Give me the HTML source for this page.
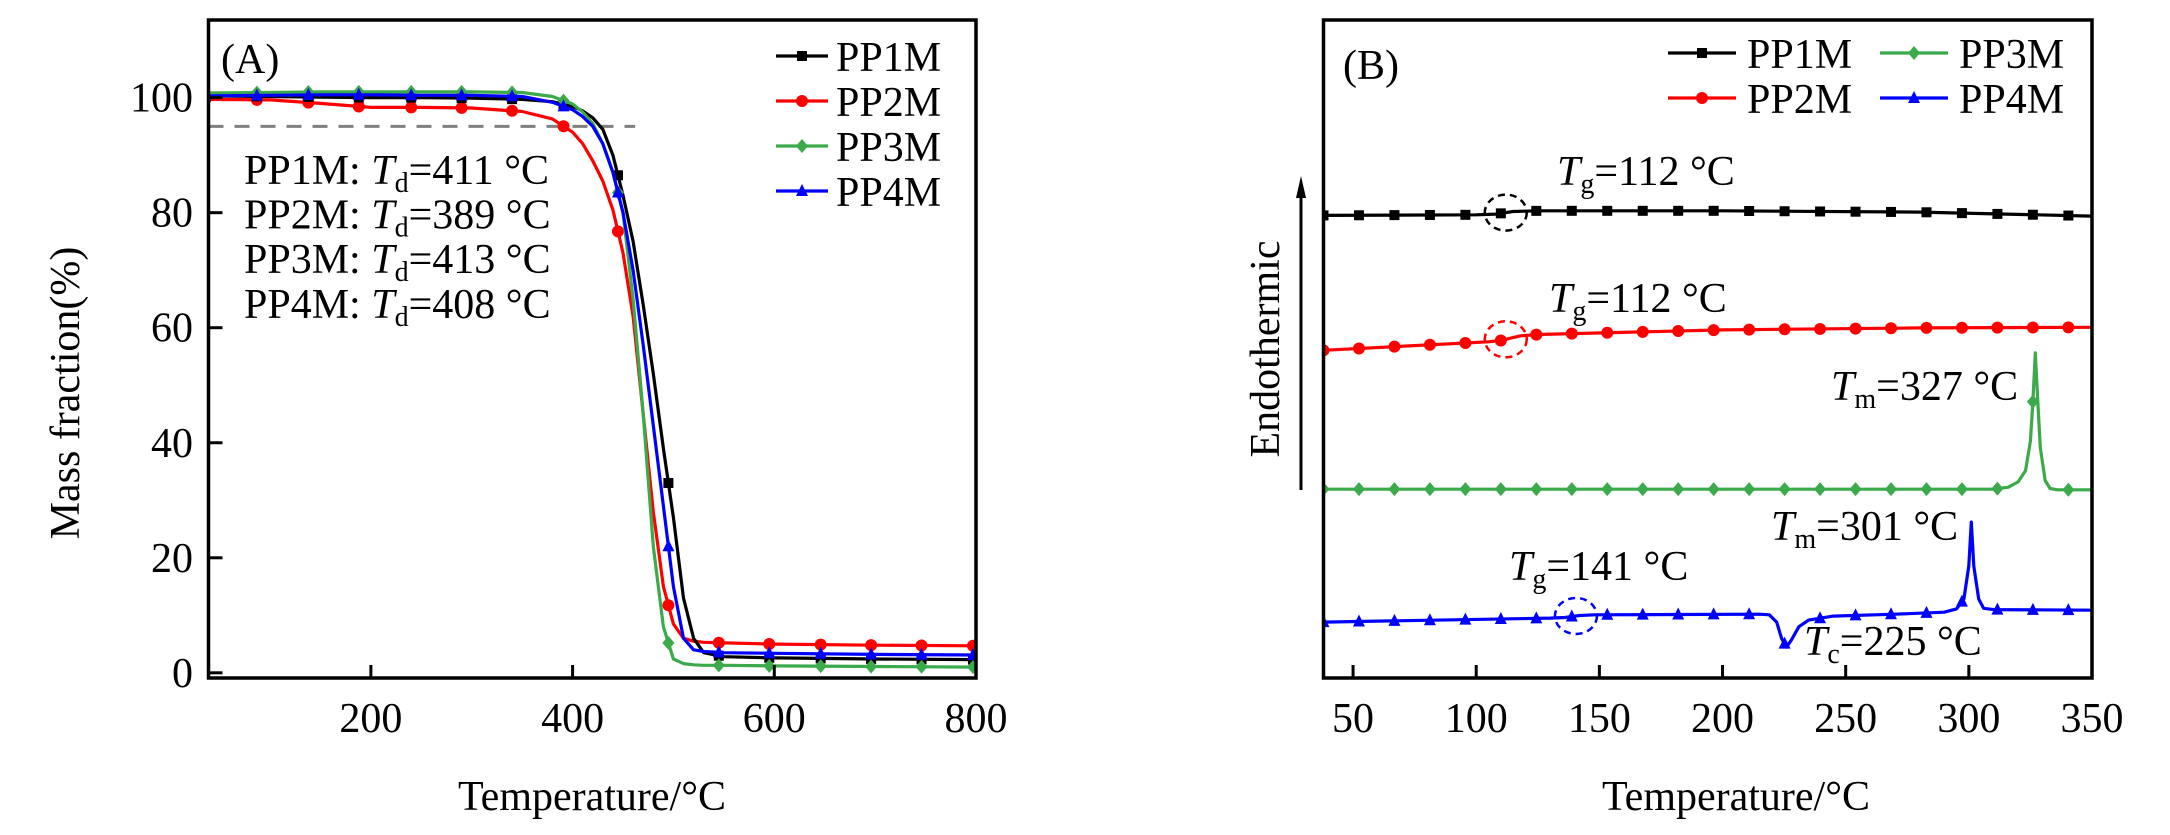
<!DOCTYPE html>
<html><head><meta charset="utf-8">
<style>
html,body{margin:0;padding:0;background:#fff;}
svg{display:block;font-family:"Liberation Serif",serif;}
</style></head>
<body>
<svg id="chart" width="2170" height="835" viewBox="0 0 2170 835" xmlns="http://www.w3.org/2000/svg">
<g id="panelA"></g>
<g id="panelB"></g>
</svg>
<script>
// ---------- Panel A data (TGA) ----------
const tgaXTicks = [200, 400, 600, 800];
const tgaYTicks = [0, 20, 40, 60, 80, 100];
const tgaNames = ["PP1M", "PP2M", "PP3M", "PP4M"];
const tgaTemp = [40,100,150,200,250,300,350,380,400,410,420,430,440,450,460,470,480,490,500,510,520,530,550,600,700,800];
const tgaPP1M = [100.3,100.2,100.1,100.0,100.0,99.9,99.7,99.3,98.5,97.7,96.5,94.5,90,83,75,64,52,39,27,13,6,3.5,2.8,2.6,2.4,2.3];
const tgaPP2M = [99.7,99.6,99.0,98.3,98.3,98.2,97.6,96.3,94.0,92.0,89.0,85.5,80.5,73,62,45,28,15,8.5,6,5.5,5.3,5.2,5.0,4.8,4.7];
const tgaPP3M = [100.8,100.9,101,101,101,101,100.9,100.2,98.9,97.5,95.5,92,87,80,65,45,22,8,2.4,1.6,1.4,1.3,1.3,1.2,1.1,1.0];
const tgaPP4M = [100.3,100.4,100.5,100.5,100.4,100.4,100.2,99.2,97.9,96.7,95,92,87,80,70,57,43,29,15,6,4,3.7,3.5,3.4,3.2,3.1];
const tgaMarkerTemps = [36,87,138,188,240,290,340,391,445,495,545,595,646,696,746,797];
const tgaLabels = ["PP1M: ","PP2M: ","PP3M: ","PP4M: "];
const tgaTd = ["=411 \u00B0C","=389 \u00B0C","=413 \u00B0C","=408 \u00B0C"];
const tgaThreshold = 95;

// ---------- Panel B data (DSC) ----------
const dscXTicks = [50,100,150,200,250,300,350];
const dscNames = ["PP1M","PP2M","PP3M","PP4M"];
const dscPP1M_T = [38,100,108,115,125,200,280,350];
const dscPP1M_V = [70.3,70.4,70.5,70.9,71.0,71.0,70.8,70.2];
const dscPP2M_T = [38,105,110,118,125,200,280,350];
const dscPP2M_V = [49.8,51.1,51.3,52.0,52.2,52.9,53.2,53.3];
const dscPP3M_T = [38,250,310,316,320,323,325,326,327,328,329,331,333,336,350];
const dscPP3M_V = [28.7,28.7,28.7,29.0,29.8,31.5,36,42,49.4,42,35,30,28.8,28.6,28.6];
const dscPP4M_T = [38,130,136,142,148,215,219,222,224,226,228,231,235,245,270,290,295,298,300,301,302,304,306,310,350];
const dscPP4M_V = [8.5,9.1,9.2,9.5,9.6,9.7,9.6,8.5,6,4.7,5.8,7.8,8.8,9.4,9.7,10.0,10.5,12,17,23.7,17,12,10.6,10.4,10.3];
const dscMarkerStart = 38, dscMarkerStep = 14.4;
const dscTg = [112, 112, null, 141];

const colors = ["#000000","#ff0000","#3aaa4a","#0000ff"];
const markerShapes = ["square","circle","diamond","triangle"];

const NS = "http://www.w3.org/2000/svg";
function mk(tag, attrs, parent){ const e=document.createElementNS(NS,tag); for(const k in attrs) e.setAttribute(k,attrs[k]); parent.appendChild(e); return e; }

const A = {x0:208.5, x1:976, y0:678, y1:20, tmin:39, tmax:800, vmin:-0.9, vmax:113.5};
function ax(t){ return A.x0 + (t-A.tmin)/(A.tmax-A.tmin)*(A.x1-A.x0); }
function ay(v){ return A.y0 - (v-A.vmin)/(A.vmax-A.vmin)*(A.y0-A.y1); }
const B = {x0:1323.5, x1:2092, y0:678, y1:20, tmin:38, tmax:350, vmin:0, vmax:100};
function bx(t){ return B.x0 + (t-B.tmin)/(B.tmax-B.tmin)*(B.x1-B.x0); }
function by(v){ return B.y0 - (v-B.vmin)/(B.vmax-B.vmin)*(B.y0-B.y1); }

function interp(T,V,t){ for(let i=0;i<T.length-1;i++){ if(t>=T[i]&&t<=T[i+1]){ const f=(t-T[i])/(T[i+1]-T[i]); return V[i]+f*(V[i+1]-V[i]); } } return t<T[0]?V[0]:V[V.length-1]; }

function marker(shape,x,y,c,s,parent){
  let e;
  if(shape==="square") e=mk("rect",{x:x-s,y:y-s,width:2*s,height:2*s,fill:c},parent);
  else if(shape==="circle") e=mk("circle",{cx:x,cy:y,r:s+1,fill:c},parent);
  else if(shape==="diamond") e=mk("polygon",{points:`${x},${y-s-2} ${x+s+1},${y} ${x},${y+s+2} ${x-s-1},${y}`,fill:c},parent);
  else e=mk("polygon",{points:`${x},${y-s-2} ${x+s+1},${y+s} ${x-s-1},${y+s}`,fill:c},parent);
  return e;
}
function txt(s,x,y,attrs,parent){ const e=mk("text",Object.assign({x:x,y:y,"font-size":42,fill:"#000"},attrs),parent); e.textContent=s; return e; }

// ===== Panel A =====
const gA=document.getElementById("panelA");
const clipA=mk("clipPath",{id:"clipA"},gA); mk("rect",{x:A.x0,y:A.y1,width:A.x1-A.x0,height:A.y0-A.y1},clipA);
const thr=mk("line",{x1:A.x0,x2:ax(462),y1:ay(tgaThreshold),y2:ay(tgaThreshold),stroke:"#808080","stroke-width":3,"stroke-dasharray":"15,11"},gA);


const tgaSeries=[tgaPP1M,tgaPP2M,tgaPP3M,tgaPP4M];
const drawOrderA=[1,0,2,3];
drawOrderA.forEach(i=>{
  const g=mk("g",{"clip-path":"url(#clipA)"},gA);
  
  
  const pts=tgaTemp.map((t,k)=>ax(t).toFixed(1)+","+ay(tgaSeries[i][k]).toFixed(1)).join(" ");
  const pl=mk("polyline",{points:pts,fill:"none",stroke:colors[i],"stroke-width":3.2,"stroke-linejoin":"round"},g);
  
  
  tgaMarkerTemps.forEach(t=>{
    const m=marker(markerShapes[i],ax(t),ay(interp(tgaTemp,tgaSeries[i],t)),colors[i],5,g);
    
    
  });
});
const frameA=mk("rect",{x:A.x0,y:A.y1,width:A.x1-A.x0,height:A.y0-A.y1,fill:"none",stroke:"#000","stroke-width":3.5},gA);


tgaXTicks.forEach(t=>{
  const l=mk("line",{x1:ax(t),x2:ax(t),y1:A.y0,y2:A.y0-13,stroke:"#000","stroke-width":3},gA);
  
  
  const tl=txt(String(t),ax(t),A.y0+54,{"text-anchor":"middle"},gA);
  
  
});
tgaYTicks.forEach(v=>{
  const l=mk("line",{x1:A.x0,x2:A.x0+14,y1:ay(v),y2:ay(v),stroke:"#000","stroke-width":3},gA);
  
  
  const tl=txt(String(v),193,ay(v)+14,{"text-anchor":"end"},gA);
  
  
});
const xtA=txt("Temperature/\u00B0C",592,810,{"text-anchor":"middle"},gA);


const ytA=txt("Mass fraction(%)",0,0,{"text-anchor":"middle",transform:"translate(79,393) rotate(-90)"},gA);


const labA=txt("(A)",221,73,{},gA);


tgaLabels.forEach((s,i)=>{
  const t=mk("text",{x:244,y:184+44.6*i,"font-size":42},gA);
  
  
  t.innerHTML=s+'<tspan font-style="italic">T</tspan><tspan font-size="28" dy="8">d</tspan><tspan dy="-8">'+tgaTd[i]+'</tspan>';
});
tgaNames.forEach((n,i)=>{
  const y=56+45*i;
  const g=mk("g",{},gA);
  
  
  mk("line",{x1:776,x2:828,y1:y,y2:y,stroke:colors[i],"stroke-width":3.2},g);
  marker(markerShapes[i],802,y,colors[i],5,g);
  txt(n,836,y+15,{},g);
});

// ===== Panel B =====
const gB=document.getElementById("panelB");
const clipB=mk("clipPath",{id:"clipB"},gB); mk("rect",{x:B.x0,y:B.y1,width:B.x1-B.x0,height:B.y0-B.y1},clipB);
const dscT=[dscPP1M_T,dscPP2M_T,dscPP3M_T,dscPP4M_T];
const dscV=[dscPP1M_V,dscPP2M_V,dscPP3M_V,dscPP4M_V];
for(let i=0;i<4;i++){
  const g=mk("g",{"clip-path":"url(#clipB)"},gB);
  
  
  const pts=dscT[i].map((t,k)=>bx(t).toFixed(1)+","+by(dscV[i][k]).toFixed(1)).join(" ");
  const pl=mk("polyline",{points:pts,fill:"none",stroke:colors[i],"stroke-width":3.2,"stroke-linejoin":"round"},g);
  
  
  for(let t=dscMarkerStart;t<=B.tmax+0.5;t+=dscMarkerStep){
    const m=marker(markerShapes[i],bx(t),by(interp(dscT[i],dscV[i],t)),colors[i],5,g);
    
    
  }
  if(dscTg[i]!==null){
    const tg=dscTg[i]+(i===3?-0.5:0);
    const c=mk("ellipse",{cx:bx(tg),cy:by(interp(dscT[i],dscV[i],tg)),rx:21,ry:18,fill:"none",stroke:colors[i],"stroke-width":2.5,"stroke-dasharray":"7,5"},gB);
    
    
  }
}
const frameB=mk("rect",{x:B.x0,y:B.y1,width:B.x1-B.x0,height:B.y0-B.y1,fill:"none",stroke:"#000","stroke-width":3.5},gB);


dscXTicks.forEach(t=>{
  const l=mk("line",{x1:bx(t),x2:bx(t),y1:B.y0,y2:B.y0-13,stroke:"#000","stroke-width":3},gB);
  
  
  const tl=txt(String(t),bx(t),B.y0+54,{"text-anchor":"middle"},gB);
  
  
});
const xtB=txt("Temperature/\u00B0C",1736,810,{"text-anchor":"middle"},gB);


const endo=txt("Endothermic",0,0,{"text-anchor":"middle",transform:"translate(1279,349) rotate(-90)"},gB);


const arr=mk("g",{},gB);


mk("line",{x1:1301,x2:1301,y1:490,y2:190,stroke:"#000","stroke-width":3},arr);
mk("polygon",{points:"1301,176 1296,198 1306,198",fill:"#000"},arr);
const labB=txt("(B)",1343,79,{},gB);


function ann(x,y,sub,val,name){
  const t=mk("text",{x:x,y:y,"font-size":42},gB);
  
  
  t.innerHTML='<tspan font-style="italic">T</tspan><tspan font-size="28" dy="8">'+sub+'</tspan><tspan dy="-8">'+val+'</tspan>';
}
ann(1557,185,"g","=112 \u00B0C","pp1m-tg-annotation");
ann(1549,312,"g","=112 \u00B0C","pp2m-tg-annotation");
ann(1831,400,"m","=327 \u00B0C","pp3m-tm-annotation");
ann(1771,540,"m","=301 \u00B0C","pp4m-tm-annotation");
ann(1509,580,"g","=141 \u00B0C","pp4m-tg-annotation");
ann(1804,655,"c","=225 \u00B0C","pp4m-tc-annotation");
const legPos=[[1668,53],[1668,98],[1880,53],[1880,98]];
dscNames.forEach((n,i)=>{
  const [x,y]=legPos[i];
  const g=mk("g",{},gB);
  
  
  mk("line",{x1:x,x2:x+68,y1:y,y2:y,stroke:colors[i],"stroke-width":3.2},g);
  marker(markerShapes[i],x+34,y,colors[i],5,g);
  txt(n,x+79,y+15,{},g);
});
</script>
</body></html>
